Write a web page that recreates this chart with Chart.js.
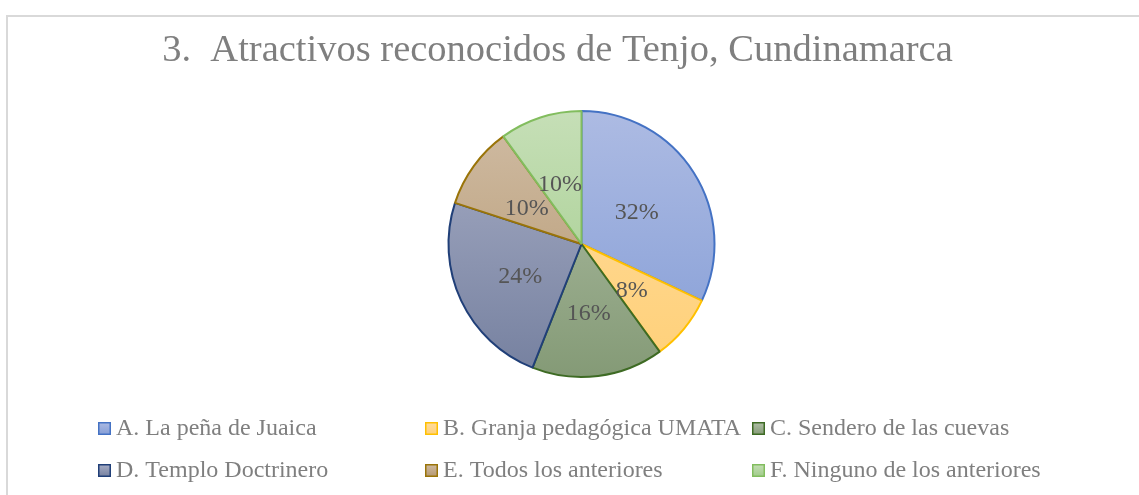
<!DOCTYPE html>
<html>
<head>
<meta charset="utf-8">
<script src="https://cdn.jsdelivr.net/npm/chart.js@4.4.1/dist/chart.umd.min.js"></script>
<style>
  html, body { margin: 0; padding: 0; background: #ffffff; }
  #wrap { position: relative; width: 1139px; height: 495px; overflow: hidden; }
  #frame { position: absolute; left: 6px; top: 15px; width: 1200px; height: 600px;
           border-top: 2px solid #d9d9d9; border-left: 2px solid #d9d9d9; box-sizing: border-box; }
  canvas { position: absolute; left: 0; top: 0; }
</style>
</head>
<body>
<div id="wrap">
  <div id="frame"></div>
  <canvas id="c" width="1139" height="495"></canvas>
</div>
<script>
// ---- data ----
const titleText = '3.  Atractivos reconocidos de Tenjo, Cundinamarca';
const categories = [
  'A. La peña de Juaica',
  'B. Granja pedagógica UMATA',
  'C. Sendero de las cuevas',
  'D. Templo Doctrinero',
  'E. Todos los anteriores',
  'F. Ninguno de los anteriores'
];
const values = [32, 8, 16, 24, 10, 10];

// ---- styles ----
const topColors    = ['#adbbe3', '#ffdc9e', '#b2c1a8', '#a8aec6', '#d0bca4', '#c6dfb7'];
const bottomColors = ['#849dd6', '#ffd078', '#849a76', '#75809f', '#b4976f', '#9fcb88'];
const borderColors = ['#4472c4', '#ffc000', '#3e6b24', '#203f78', '#9a7408', '#82bd5e'];
const serif = "'Liberation Serif', 'Times New Roman', serif";

function grad(ctx, i, y0, y1) {
  const g = ctx.createLinearGradient(0, y0, 0, y1);
  g.addColorStop(0, topColors[i]);
  g.addColorStop(1, bottomColors[i]);
  return g;
}

const decorPlugin = {
  id: 'decor',
  afterDatasetsDraw(chart) {
    const ctx = chart.ctx;
    const meta = chart.getDatasetMeta(0);
    ctx.save();
    // data labels
    ctx.font = '24px ' + serif;
    ctx.fillStyle = '#555555';
    ctx.textAlign = 'center';
    ctx.textBaseline = 'middle';
    meta.data.forEach((arc, i) => {
      const p = arc.getCenterPoint();
      ctx.fillText(values[i] + '%', p.x - 1, p.y + 4);
    });
    ctx.restore();
  },
  afterDraw(chart) {
    const ctx = chart.ctx;
    ctx.save();
    // title
    ctx.font = '38.5px ' + serif;
    ctx.fillStyle = '#7f7f7f';
    ctx.textAlign = 'center';
    ctx.textBaseline = 'alphabetic';
    ctx.fillText(titleText, 557.5, 61);
    // legend grid
    const colX = [98, 425, 752];
    const rowY = [428, 470];
    ctx.font = '24px ' + serif;
    ctx.textAlign = 'left';
    ctx.textBaseline = 'middle';
    categories.forEach((label, i) => {
      const x = colX[i % 3], y = rowY[Math.floor(i / 3)];
      ctx.fillStyle = grad(ctx, i, y - 6, y + 7);
      ctx.fillRect(x, y - 6, 13, 13);
      ctx.lineWidth = 1.5;
      ctx.strokeStyle = borderColors[i];
      ctx.strokeRect(x + 0.75, y - 5.25, 11.5, 11.5);
      ctx.fillStyle = '#7f7f7f';
      ctx.fillText(label, x + 18, y + 1);
    });
    ctx.restore();
  }
};

new Chart(document.getElementById('c'), {
  type: 'pie',
  data: {
    labels: categories,
    datasets: [{
      data: values,
      backgroundColor: (c) => {
        const area = c.chart.chartArea;
        if (!area) return topColors[c.dataIndex];
        return grad(c.chart.ctx, c.dataIndex, area.top, area.bottom);
      },
      borderColor: borderColors,
      borderWidth: 2
    }]
  },
  options: {
    responsive: false,
    animation: false,
    layout: { padding: { top: 110, bottom: 117, left: 447, right: 423 } },
    plugins: {
      legend: { display: false },
      title: { display: false },
      tooltip: { enabled: false }
    }
  },
  plugins: [decorPlugin]
});
</script>
</body>
</html>
